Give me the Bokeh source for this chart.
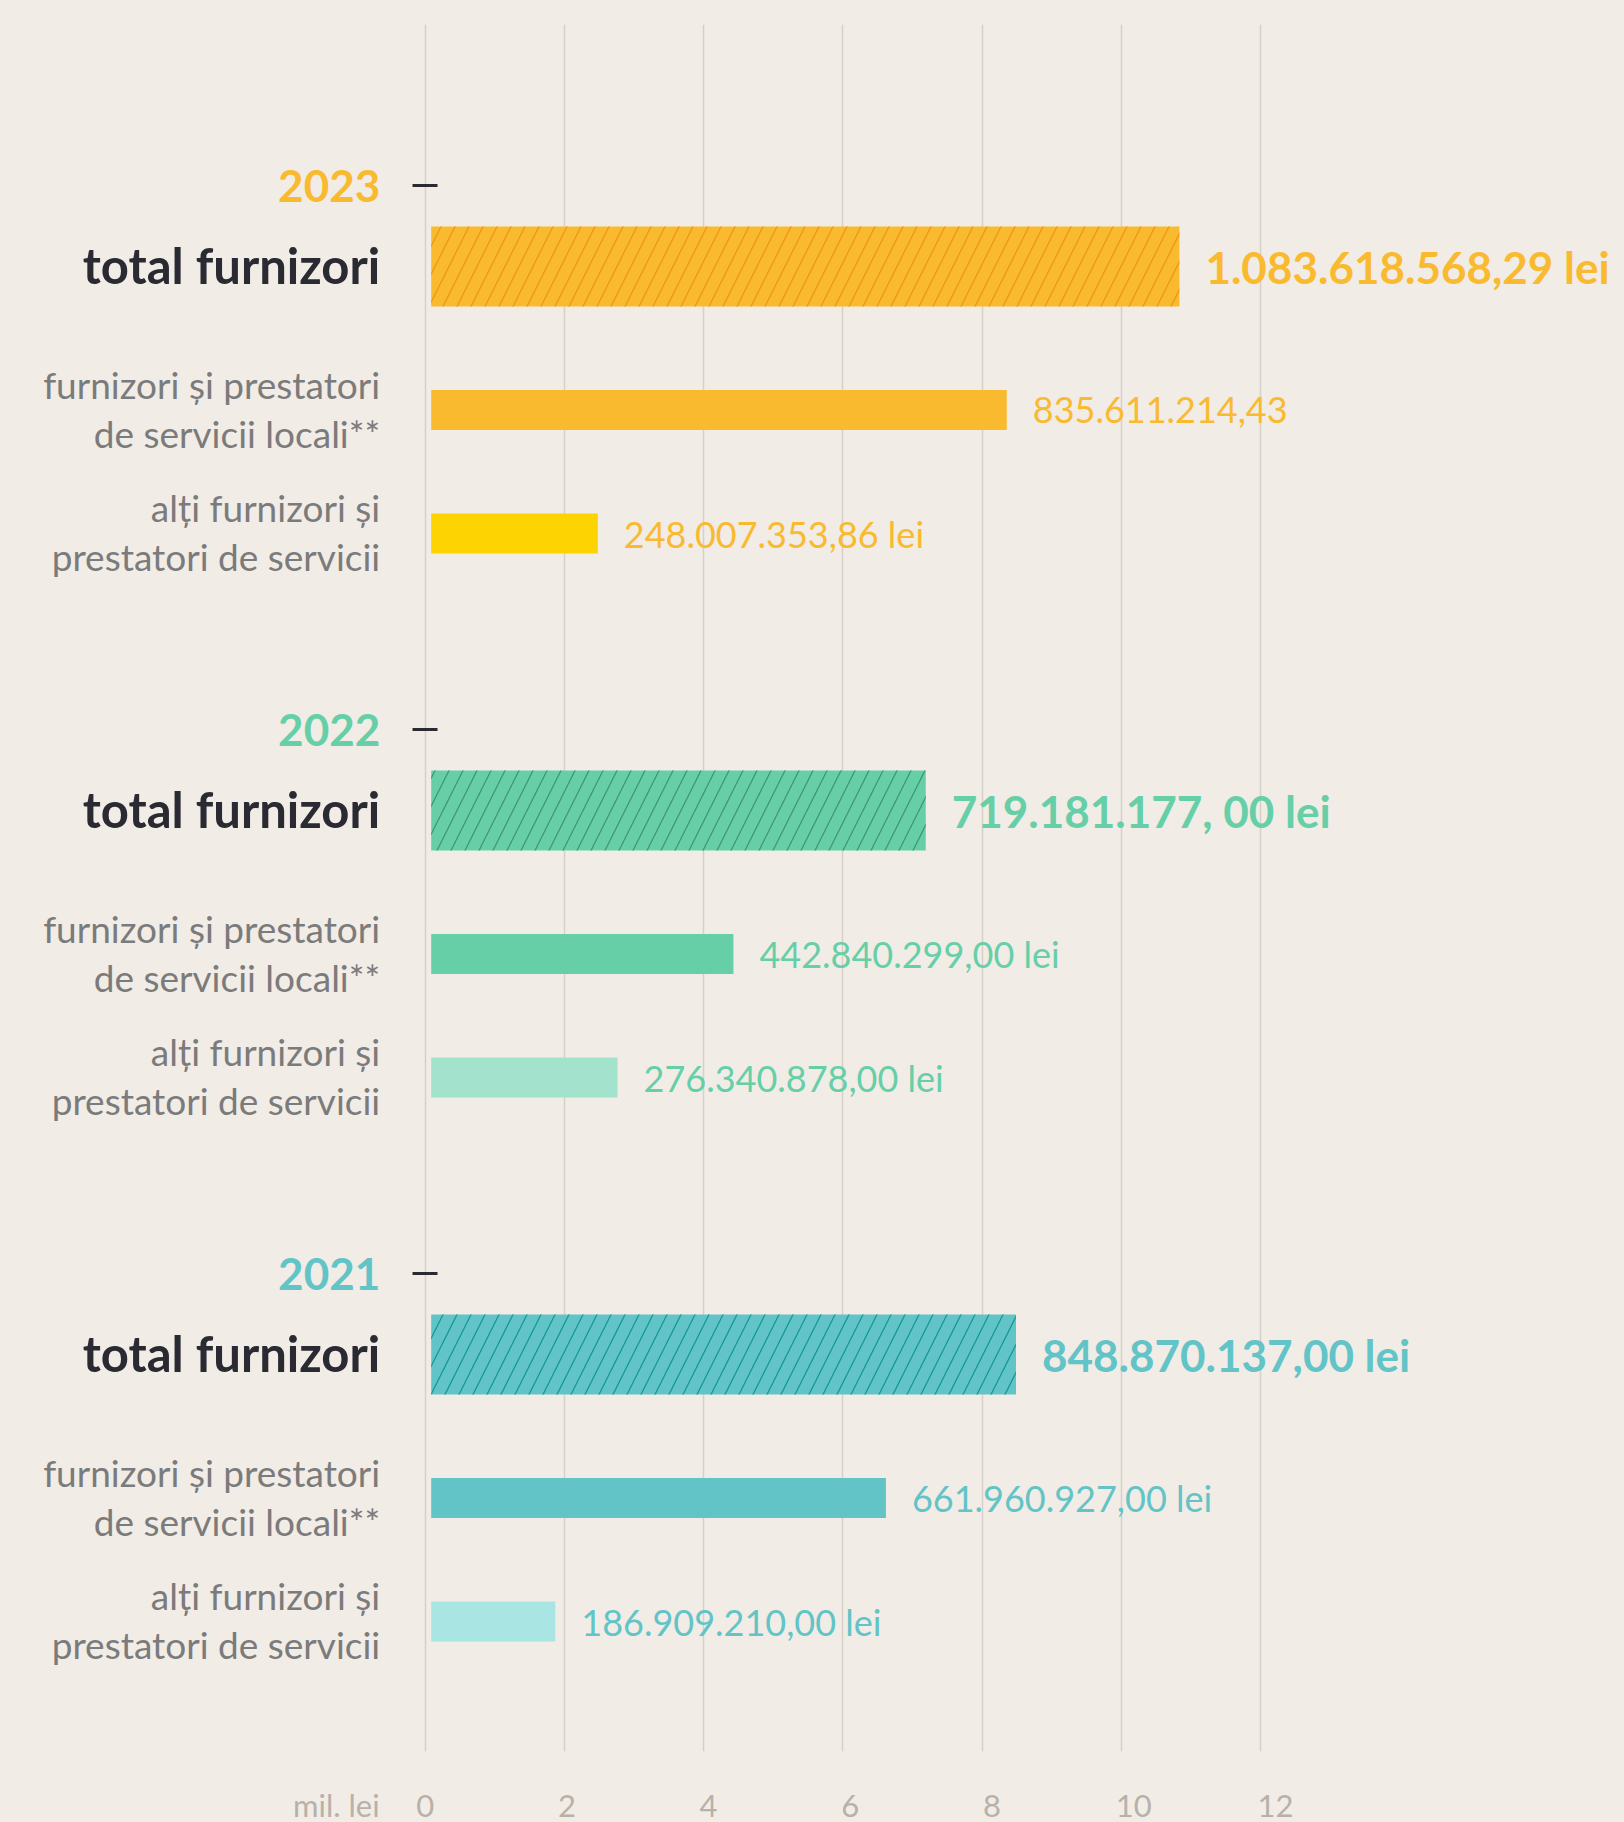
from bokeh.plotting import figure
from bokeh.models import Range1d, FixedTicker
from bokeh.core.properties import value
from bokeh.embed import file_html
from bokeh.resources import INLINE

# ---------------- data ----------------
years = ["2023", "2022", "2021"]
total_vals = [10.8362, 7.1918, 8.4887]   # axis units ("mil. lei" scale, 0-12)
local_vals = [8.3561, 4.4284, 6.6196]
other_vals = [2.4801, 2.7634, 1.8691]
total_labels = ["1.083.618.568,29 lei", "719.181.177, 00 lei", "848.870.137,00 lei"]
local_labels = ["835.611.214,43", "442.840.299,00 lei", "661.960.927,00 lei"]
other_labels = ["248.007.353,86 lei", "276.340.878,00 lei", "186.909.210,00 lei"]
row_total = "total furnizori"
row_local = ["furnizori și prestatori", "de servicii locali**"]
row_other = ["alți furnizori și", "prestatori de servicii"]
x_ticks = [0, 2, 4, 6, 8, 10, 12]
unit_label = "mil. lei"

# ---------------- styles ----------------
BG = "#f1ece6"
main_colors = ["#f9ba30", "#66cfa8", "#62c4c7"]
other_colors = ["#fdd401", "#a3e3cd", "#a8e5e3"]
hatch_colors = ["#ee9612", "#3f9673", "#12979b"]
DARK = "#2a2a33"
GRAY = "#7b7b7b"
TICK_GRAY = "#b8b1aa"
FONT = value("Lato")

PX = 69.6            # pixels per axis unit
FRAME_W, FRAME_H = 1624, 1727
TOP = 24
X0_PX = 424.7        # frame px of x = 0
x_start = -X0_PX / PX
x_end = x_start + FRAME_W / PX
LABEL_STRETCH = 1.018  # tick labels in the original sit slightly right of their grid lines

GROUP_TOP = 266.0    # y of first total bar centre (px == data units)
GROUP_STEP = 544.0
OFF_YEAR, OFF_TOTAL, OFF_LOCAL, OFF_OTHER = -81, 0, 143.5, 267
TOTAL_H, SUB_H = 80, 40
BAR_LEFT = 6 / PX
LABEL_GAP = 26 / PX
LEFT_X = -45 / PX

centers = [GROUP_TOP + i * GROUP_STEP for i in range(len(years))]

p = figure(frame_width=FRAME_W, frame_height=FRAME_H,
           x_range=Range1d(x_start, x_end), y_range=Range1d(TOP + FRAME_H, TOP),
           output_backend="svg", toolbar_location=None, y_axis_location=None,
           min_border_top=TOP, min_border_left=0, min_border_right=0,
           min_border_bottom=1822 - TOP - FRAME_H)
p.background_fill_color = BG
p.border_fill_color = BG
p.outline_line_color = None

p.xgrid.ticker = FixedTicker(ticks=x_ticks)
p.xgrid.grid_line_color = "#d6d0c9"
p.xgrid.grid_line_width = 1.5
p.ygrid.visible = False

unit_pos = -1.277
label_pos = [t * LABEL_STRETCH for t in x_ticks]
ax = p.xaxis[0]
ax.ticker = FixedTicker(ticks=[unit_pos] + label_pos)
overrides = {lp: str(t) for lp, t in zip(label_pos, x_ticks)}
overrides[unit_pos] = unit_label
ax.major_label_overrides = overrides
ax.axis_line_color = None
ax.major_tick_line_color = None
ax.minor_tick_line_color = None
ax.major_label_text_font = "Lato"
ax.major_label_text_font_size = "31px"
ax.major_label_text_color = TICK_GRAY
ax.major_label_standoff = 28

# ---------------- bars ----------------
for i, yr in enumerate(years):
    c = centers[i]
    p.hbar(y=[c + OFF_TOTAL], left=BAR_LEFT, right=[total_vals[i]], height=TOTAL_H,
           fill_color=main_colors[i], line_color=None,
           hatch_pattern="/", hatch_color=hatch_colors[i], hatch_weight=1.3, hatch_scale=28)
    p.hbar(y=[c + OFF_LOCAL], left=BAR_LEFT, right=[local_vals[i]], height=SUB_H,
           fill_color=main_colors[i], line_color=None)
    p.hbar(y=[c + OFF_OTHER], left=BAR_LEFT, right=[other_vals[i]], height=SUB_H,
           fill_color=other_colors[i], line_color=None)

    # year tick dash
    p.segment(x0=[-0.182], x1=[0.177], y0=[c + OFF_YEAR], y1=[c + OFF_YEAR],
              line_color=DARK, line_width=3)

    # left labels
    p.text(x=[LEFT_X], y=[c + OFF_YEAR], text=[yr], text_align="right",
           text_baseline="middle", text_font=FONT, text_font_size="44px",
           text_font_style="bold", text_color=main_colors[i])
    p.text(x=[LEFT_X], y=[c + OFF_TOTAL - 1.5], text=[row_total], text_align="right",
           text_baseline="middle", text_font=FONT, text_font_size="49px",
           text_font_style="bold", text_color=DARK)
    for base, lines in ((c + OFF_LOCAL, row_local), (c + OFF_OTHER, row_other)):
        p.text(x=[LEFT_X, LEFT_X], y=[base - 26, base + 23], text=lines, text_align="right",
               text_baseline="middle", text_font=FONT, text_font_size="37px",
               text_color=GRAY)

    # value labels
    p.text(x=[total_vals[i] + LABEL_GAP], y=[c + OFF_TOTAL], text=[total_labels[i]],
           text_align="left", text_baseline="middle", text_font=FONT,
           text_font_size="44px", text_font_style="bold", text_color=main_colors[i])
    p.text(x=[local_vals[i] + LABEL_GAP, other_vals[i] + LABEL_GAP],
           y=[c + OFF_LOCAL, c + OFF_OTHER],
           text=[local_labels[i], other_labels[i]],
           text_align="left", text_baseline="middle", text_font=FONT,
           text_font_size="36px", text_color=main_colors[i])

html = file_html(p, INLINE)
html = html.replace("</head>", "<style>html, body { background: %s; }</style></head>" % BG, 1)
open("out.html", "w").write(html)
